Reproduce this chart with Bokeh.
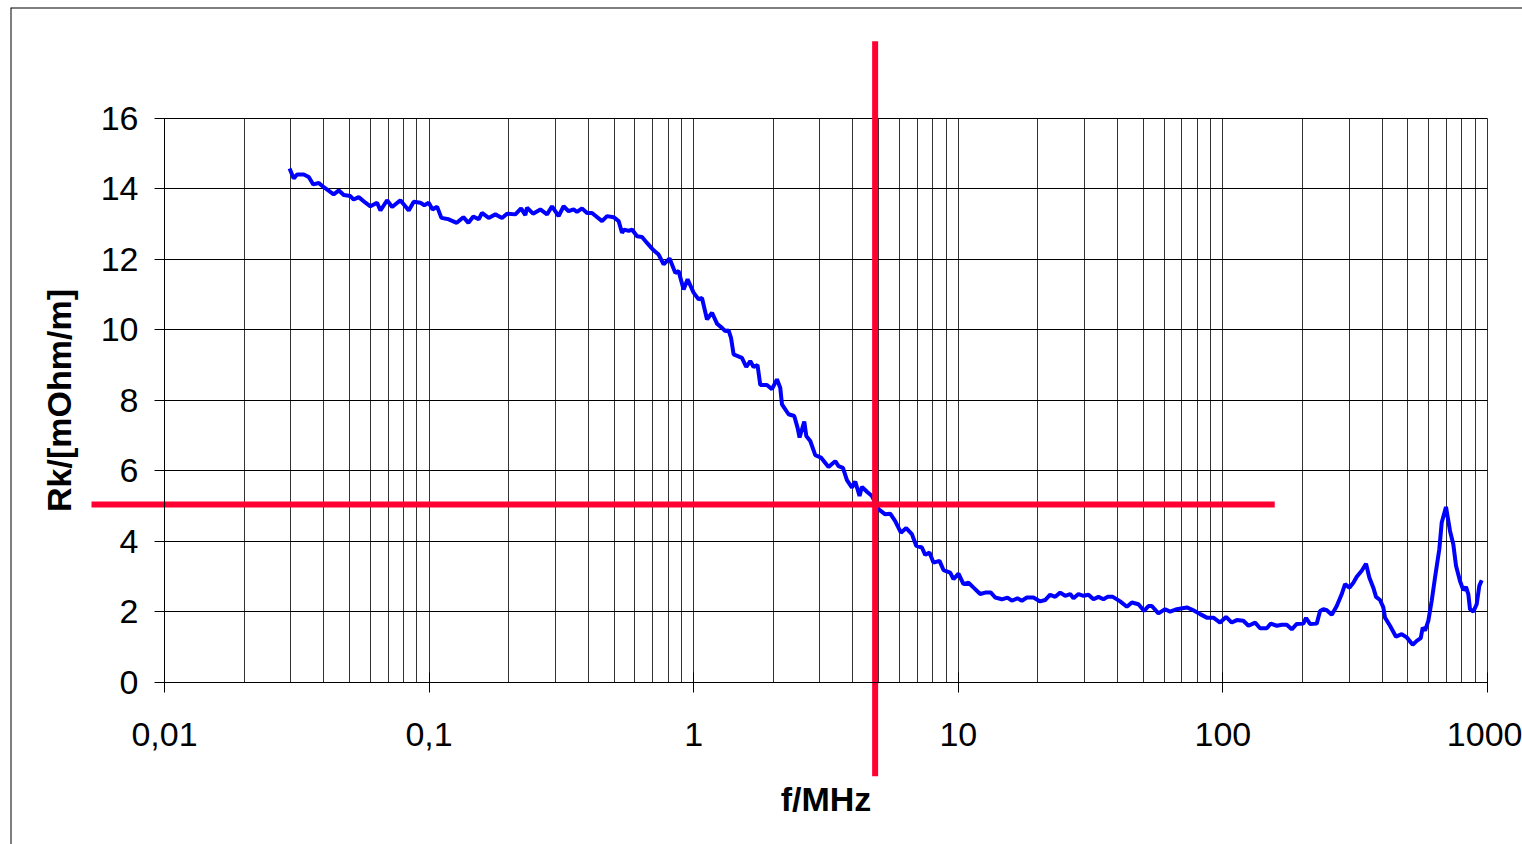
from bokeh.plotting import figure
from bokeh.models import Range1d, FixedTicker, Span
from bokeh.embed import file_html
from bokeh.resources import INLINE

# ---- data ----
freq_mhz = [0.0297,0.0308,0.0317,0.0336,0.0351,0.0365,0.0383,0.0400,0.0436,0.0456,
    0.0476,0.0504,0.0519,0.0542,0.0575,0.0600,0.0636,0.0655,0.0694,0.0725,
    0.0779,0.0838,0.0875,0.0927,0.0960,0.0997,0.1031,0.1072,0.1113,0.1186,
    0.1272,0.1348,0.1408,0.1470,0.1540,0.1585,0.1679,0.1780,0.1887,0.1971,
    0.2119,0.2227,0.2311,0.2345,0.2471,0.2633,0.2791,0.2915,0.3087,0.3224,
    0.3367,0.3517,0.3622,0.3784,0.3953,0.4128,0.4505,0.4705,0.4983,0.5205,
    0.5360,0.5469,0.5678,0.5848,0.6108,0.6379,0.6663,0.7056,0.7370,0.7698,
    0.8111,0.8521,0.8770,0.9160,0.9484,0.9993,1.044,1.075,1.123,1.173,
    1.225,1.279,1.316,1.355,1.384,1.415,1.522,1.580,1.636,1.684,
    1.743,1.785,1.892,1.976,2.064,2.124,2.156,2.283,2.399,2.469,
    2.513,2.618,2.664,2.758,2.881,3.027,3.233,3.428,3.527,3.665,
    3.795,3.964,4.079,4.235,4.324,4.517,4.718,4.995,5.294,5.530,
    5.776,6.069,6.356,6.679,6.934,7.286,7.499,7.783,8.058,8.492,
    8.793,9.320,9.592,10.02,10.46,10.93,11.42,12.10,12.64,13.28,
    13.79,14.61,15.34,15.94,16.73,17.39,18.16,19.24,20.39,21.29,
    22.24,23.23,24.27,25.35,26.48,27.25,28.46,29.72,31.05,32.43,
    33.87,35.37,36.62,38.38,40.90,43.36,45.29,47.96,50.40,52.32,
    53.88,57.06,60.47,63.17,66.96,73.05,77.38,82.02,86.94,92.07,
    97.59,102.8,108.0,112.9,119.5,124.9,132.4,138.2,146.5,151.7,
    159.8,167.0,174.3,182.1,190.2,201.4,206.2,213.5,226.3,232.9,
    239.7,246.9,257.9,269.3,281.3,289.5,300.6,311.2,320.5,334.7,
    347.5,357.6,370.2,379.1,392.5,403.9,409.9,428.1,451.0,474.0,
    495.1,521.6,540.2,559.3,569.1,580.6,597.5,615.4,633.4,657.4,
    671.4,696.9,721.6,742.6,760.3,787.2,810.2,829.4,846.2,858.7,
    883.6,910.2,931.0,950.9]

rk_mohm_m = [14.58,14.30,14.41,14.41,14.34,14.13,14.17,14.05,13.85,13.96,
    13.83,13.80,13.70,13.77,13.61,13.51,13.61,13.39,13.68,13.49,
    13.68,13.39,13.64,13.61,13.54,13.61,13.42,13.50,13.18,13.14,
    13.04,13.20,13.04,13.22,13.14,13.32,13.18,13.28,13.18,13.30,
    13.28,13.45,13.26,13.47,13.30,13.42,13.28,13.51,13.23,13.51,
    13.37,13.42,13.35,13.45,13.32,13.32,13.09,13.23,13.20,13.09,
    12.76,12.85,12.81,12.85,12.66,12.64,12.47,12.26,12.14,11.86,
    12.03,11.62,11.67,11.15,11.44,11.06,10.87,10.91,10.30,10.49,
    10.18,10.06,9.97,9.99,9.78,9.31,9.21,8.95,9.12,8.95,
    9.01,8.44,8.44,8.32,8.60,8.36,7.89,7.61,7.56,7.23,
    6.95,7.40,6.99,6.85,6.45,6.38,6.11,6.28,6.14,6.09,
    5.74,5.53,5.70,5.29,5.55,5.41,5.29,4.92,4.77,4.79,
    4.58,4.25,4.38,4.21,3.88,3.83,3.62,3.69,3.40,3.45,
    3.19,3.12,2.93,3.09,2.79,2.83,2.69,2.51,2.55,2.55,
    2.41,2.36,2.41,2.32,2.39,2.32,2.41,2.41,2.30,2.34,
    2.49,2.43,2.55,2.46,2.51,2.39,2.51,2.46,2.49,2.36,
    2.43,2.36,2.43,2.43,2.30,2.15,2.27,2.22,2.03,2.17,
    2.17,1.96,2.08,2.01,2.08,2.13,2.05,1.94,1.84,1.84,
    1.70,1.86,1.70,1.77,1.75,1.61,1.70,1.54,1.54,1.67,
    1.61,1.64,1.64,1.51,1.66,1.67,1.83,1.66,1.67,2.03,
    2.08,2.05,1.92,2.17,2.51,2.79,2.69,2.83,3.00,3.17,
    3.37,2.98,2.69,2.43,2.34,2.13,1.84,1.61,1.30,1.37,
    1.28,1.07,1.18,1.26,1.56,1.47,1.75,2.32,2.98,3.78,
    4.54,4.98,4.30,3.92,3.31,2.88,2.62,2.71,2.51,2.08,
    2.01,2.22,2.74,2.90]

# red marker lines (vertical at ~4.85 MHz, horizontal at ~5 mOhm/m)
vline_f = [4.85, 4.85]
vline_v = [-2.66, 18.19]
hline_f = [0.0053, 157.0]
hline_v = [5.05, 5.05]

x_ticks = [0.01, 0.1, 1, 10, 100, 1000]
x_tick_labels = ["0,01", "0,1", "1", "10", "100", "1000"]
x_minor = [m * d for d in [0.01, 0.1, 1, 10, 100] for m in range(2, 10)]
y_ticks = [0, 2, 4, 6, 8, 10, 12, 14, 16]
x_axis_bounds = (0.01, 1000)
y_axis_bounds = (0, 16)

FONT = "Liberation Sans"

# The frame spans the whole chart area; the axes are pinned at x=0.01 and
# y=0 so the red lines can extend past them.
xr = Range1d(0.002619, 1356.0)
yr = Range1d(-4.596, 19.149)
p = figure(width=1522, height=844, x_axis_type="log",
           x_range=xr, y_range=yr,
           output_backend="svg", toolbar_location=None,
           min_border_left=10, min_border_right=0,
           min_border_top=7, min_border_bottom=0)

p.background_fill_color = "white"
p.border_fill_color = "white"
p.outline_line_color = None

# chart-area border: only its left and top edges are inside the picture
p.add_layout(Span(location=xr.start, dimension="height", line_color="#000000", line_width=2))
p.add_layout(Span(location=yr.end, dimension="width", line_color="#000000", line_width=2))

# axes
p.xaxis.ticker = FixedTicker(ticks=x_ticks, minor_ticks=x_minor)
p.xaxis.major_label_overrides = dict(zip(x_ticks, x_tick_labels))
p.yaxis.ticker = FixedTicker(ticks=y_ticks)
p.xaxis.fixed_location = y_axis_bounds[0]
p.yaxis.fixed_location = x_axis_bounds[0]
p.xaxis.bounds = x_axis_bounds
p.yaxis.bounds = y_axis_bounds
for ax in (p.xaxis, p.yaxis):
    ax.axis_line_color = "#000000"
    ax.axis_line_width = 1
    ax.major_tick_line_color = "#000000"
    ax.major_tick_in = 10
    ax.major_tick_out = 10
    ax.minor_tick_line_color = None
    ax.major_label_text_font = FONT
    ax.major_label_text_font_size = "34px"
    ax.major_label_text_color = "#000000"
    ax.axis_label_text_font = FONT
    ax.axis_label_text_font_size = "34px"
    ax.axis_label_text_font_style = "bold"
    ax.axis_label_text_color = "#000000"

p.xaxis.axis_label = "f/MHz"
p.yaxis.axis_label = "Rk/[mOhm/m]"
p.xaxis.major_label_standoff = 31
p.yaxis.major_label_standoff = 16
p.xaxis.axis_label_standoff = 30
p.yaxis.axis_label_standoff = 20

# grid (only inside the 0.01..1000 x 0..16 area)
grid_ok = True
try:
    p.xgrid.cross_bounds = y_axis_bounds
    p.ygrid.cross_bounds = x_axis_bounds
except Exception:
    grid_ok = False

if grid_ok:
    p.xgrid.grid_line_color = "#333333"
    p.xgrid.grid_line_width = 1
    p.xgrid.minor_grid_line_color = "#333333"
    p.xgrid.minor_grid_line_width = 1
    p.ygrid.ticker = FixedTicker(ticks=y_ticks)
    p.ygrid.grid_line_color = "#000000"
    p.ygrid.grid_line_width = 1
else:
    p.xgrid.grid_line_color = None
    p.ygrid.grid_line_color = None
    gx = x_ticks + x_minor
    p.segment(x0=gx, x1=gx, y0=[y_axis_bounds[0]] * len(gx), y1=[y_axis_bounds[1]] * len(gx),
              line_color="#333333", line_width=1)
    p.segment(x0=[x_axis_bounds[0]] * len(y_ticks), x1=[x_axis_bounds[1]] * len(y_ticks),
              y0=y_ticks, y1=y_ticks, line_color="#000000", line_width=1)

# curve
p.line(freq_mhz, rk_mohm_m, line_color="#0000FF", line_width=4)

# red marker lines
p.line(vline_f, vline_v, line_color="#FF0033", line_width=6)
p.line(hline_f, hline_v, line_color="#FF0033", line_width=6)

open("out.html", "w").write(file_html(p, INLINE))
